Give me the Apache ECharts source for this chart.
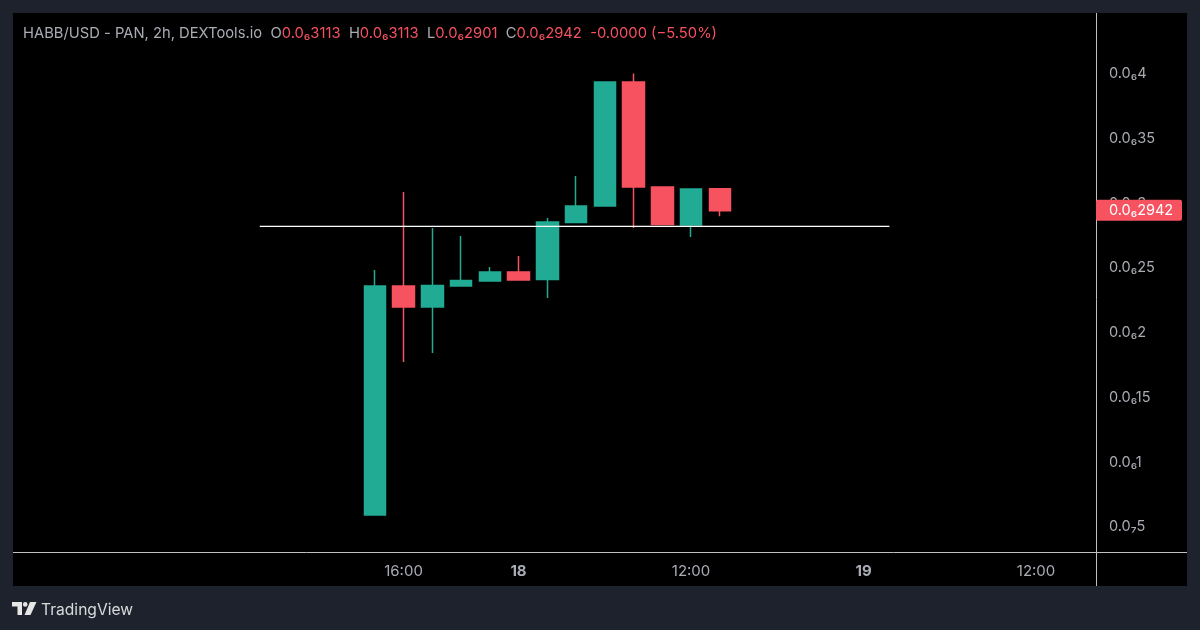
<!DOCTYPE html>
<html>
<head>
<meta charset="utf-8">
<title>HABB/USD</title>
<script src="https://cdn.jsdelivr.net/npm/echarts@6/dist/echarts.min.js"></script>
<style>
  html, body { margin: 0; padding: 0; background: #1e222d; }
  #chart { width: 1200px; height: 630px; }
</style>
</head>
<body>
<div id="chart"></div>
<script>
// hours counted from 00:00 of the 17th, one bar every 2h
var barHours = [14, 16, 18, 20, 22, 24, 26, 28, 30, 32, 34, 36, 38];
var opens  = [0.592e-7, 2.362e-7, 2.199e-7, 2.362e-7, 2.400e-7, 2.470e-7, 2.412e-7, 2.852e-7, 2.980e-7, 3.938e-7, 3.127e-7, 2.833e-7, 3.113e-7];
var closes = [2.362e-7, 2.199e-7, 2.366e-7, 2.404e-7, 2.470e-7, 2.408e-7, 2.856e-7, 2.980e-7, 3.938e-7, 3.127e-7, 2.837e-7, 3.111e-7, 2.942e-7];
var lows   = [0.592e-7, 1.774e-7, 1.844e-7, 2.362e-7, 2.395e-7, 2.408e-7, 2.269e-7, 2.852e-7, 2.980e-7, 2.810e-7, 2.837e-7, 2.740e-7, 2.901e-7];
var highs  = [2.485e-7, 3.088e-7, 2.810e-7, 2.748e-7, 2.508e-7, 2.593e-7, 2.887e-7, 3.212e-7, 3.938e-7, 4.004e-7, 3.131e-7, 3.113e-7, 3.113e-7];

var priceTicks = [0.5e-7, 1e-7, 1.5e-7, 2e-7, 2.5e-7, 3e-7, 3.5e-7, 4e-7];
var priceLabels = ['0.0₇5', '0.0₆1', '0.0₆15', '0.0₆2', '0.0₆25', '0.0₆3', '0.0₆35', '0.0₆4'];
var timeTicks = [16, 24, 36, 48, 60];
var timeLabels = ['16:00', '{b|18}', '12:00', '{b|19}', '12:00'];

// the white horizontal line somebody drew on the chart
var drawnLineX = [6, 49.8];
var drawnLineY = [2.822e-7, 2.822e-7];

var lastClose = 2.942e-7;
var lastCloseLabel = '0.0₆2942';

var UP = '#22ab94';
var DOWN = '#f7525f';
var GREY = '#a9acb4';
var FONT = 'Inter, Roboto, sans-serif';

var candles = [];
for (var i = 0; i < barHours.length; i++) {
  candles.push([barHours[i], opens[i], closes[i], lows[i], highs[i]]);
}
var drawnLine = [];
for (var j = 0; j < drawnLineX.length; j++) {
  drawnLine.push([drawnLineX[j], drawnLineY[j]]);
}

function nearestLabel(value, ticks, labels) {
  var best = 0;
  for (var k = 0; k < ticks.length; k++) {
    if (Math.abs(ticks[k] - value) < Math.abs(ticks[best] - value)) best = k;
  }
  return labels[best];
}

var myChart = echarts.init(document.getElementById('chart'));

var option = {
  backgroundColor: '#1e222d',
  animation: false,
  title: {
    left: 23,
    top: 26,
    padding: 0,
    text: '{g|HABB/USD - PAN, 2h, DEXTools.io  O}{r|0.0₆3113}{g|  H}{r|0.0₆3113}{g|  L}{r|0.0₆2901}{g|  C}{r|0.0₆2942}{r|  -0.0000 (−5.50%)}',
    textStyle: {
      fontWeight: 'normal',
      rich: {
        g: { color: GREY, fontSize: 14.75, fontWeight: 'normal', fontFamily: FONT },
        r: { color: DOWN, fontSize: 14.75, fontWeight: 'normal', fontFamily: FONT }
      }
    }
  },
  grid: { left: 13, right: 103, top: 13, bottom: 78 },
  xAxis: {
    type: 'value',
    min: -11.165,
    max: 64.24,
    splitLine: { show: false },
    axisLine: { show: false },
    axisTick: { show: false },
    axisLabel: {
      customValues: timeTicks,
      margin: 12,
      color: GREY,
      fontSize: 15,
      fontFamily: FONT,
      formatter: function (v) { return nearestLabel(v, timeTicks, timeLabels); },
      rich: { b: { color: GREY, fontSize: 15, fontWeight: 'bold', fontFamily: FONT } }
    }
  },
  yAxis: {
    type: 'value',
    position: 'right',
    min: 0.306e-7,
    max: 4.471e-7,
    scale: true,
    splitLine: { show: false },
    axisLine: { show: false },
    axisTick: { show: false },
    axisLabel: {
      customValues: priceTicks,
      margin: 12,
      padding: [2, 0, 0, 0],
      color: GREY,
      fontSize: 14.5,
      fontFamily: FONT,
      formatter: function (v) { return nearestLabel(v, priceTicks, priceLabels); }
    }
  },
  series: [
    {
      type: 'candlestick',
      data: candles,
      encode: { x: 0, y: [1, 2, 3, 4] },
      barWidth: 22,
      itemStyle: {
        color: UP,
        color0: DOWN,
        borderColor: UP,
        borderColor0: DOWN,
        borderWidth: 1.5
      }
    },
    {
      type: 'line',
      data: drawnLine,
      symbol: 'none',
      silent: true,
      z: 5,
      lineStyle: { color: '#ffffff', width: 1.2 }
    }
  ],
  graphic: [
    { type: 'rect', z: -1, silent: true, shape: { x: 13, y: 13, width: 1174, height: 573 }, style: { fill: '#000000' } },
    { type: 'line', z: 1, silent: true, shape: { x1: 13, y1: 552.5, x2: 1187, y2: 552.5 }, style: { stroke: '#c0c0c0', lineWidth: 1 } },
    { type: 'line', z: 1, silent: true, shape: { x1: 1096.5, y1: 13, x2: 1096.5, y2: 586 }, style: { stroke: '#c0c0c0', lineWidth: 1 } },
    // TradingView logo + name
    { type: 'polygon', silent: true, shape: { points: [[12, 602], [22, 602], [22, 615], [17.5, 615], [17.5, 606.5], [12, 606.5]] }, style: { fill: '#e6e6e6' } },
    { type: 'circle', silent: true, shape: { cx: 25.2, cy: 604.4, r: 2.3 }, style: { fill: '#e6e6e6' } },
    { type: 'polygon', silent: true, shape: { points: [[30, 602], [36.5, 602], [30.5, 615], [24.5, 615]] }, style: { fill: '#e6e6e6' } },
    { type: 'text', silent: true, x: 41, y: 602, style: { text: 'TradingView', fill: '#d8d9dc', fontSize: 15.6, fontFamily: FONT } }
  ]
};
myChart.setOption(option);

// price tag on the axis, placed from the last close
var tagY = myChart.convertToPixel({ yAxisIndex: 0 }, lastClose);
myChart.setOption({
  graphic: option.graphic.concat([
    { type: 'rect', z: 20, silent: true, shape: { x: 1096, y: tagY - 11, width: 86, height: 21, r: 2 }, style: { fill: DOWN } },
    { type: 'text', z: 21, silent: true, x: 1109, y: tagY - 8, style: { text: lastCloseLabel, fill: '#ffffff', fontSize: 14.5, fontFamily: FONT } }
  ])
});
</script>
</body>
</html>
